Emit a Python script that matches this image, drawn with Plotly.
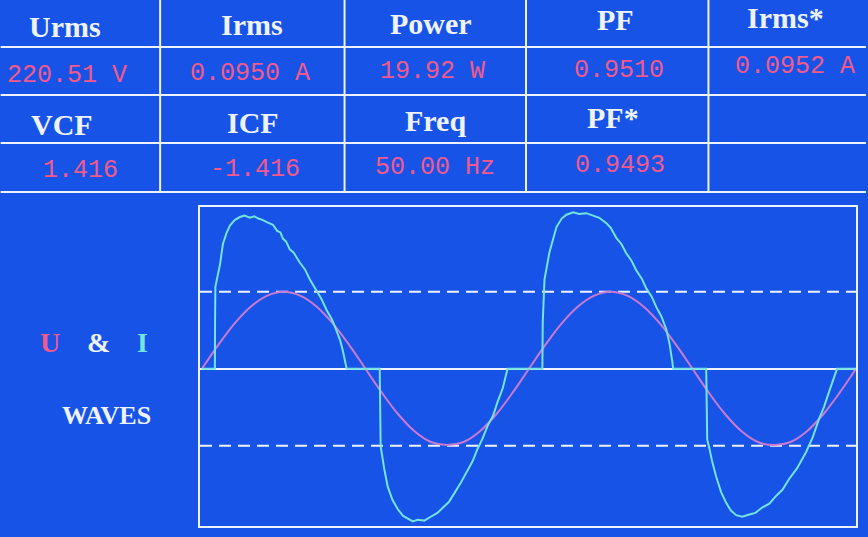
import plotly.graph_objects as go

# ---------------- data ----------------
header_row1 = ["Urms", "Irms", "Power", "PF", "Irms*"]
value_row1 = ["220.51 V", "0.0950 A", "19.92 W", "0.9510", "0.0952 A"]
header_row2 = ["VCF", "ICF", "Freq", "PF*", ""]
value_row2 = ["1.416", "-1.416", "50.00 Hz", "0.9493", ""]

# time axis in ms (two mains cycles, 50 Hz)
volt_t = [0, 1, 2, 3, 4, 5, 6, 7, 8, 9, 10, 11, 12, 13, 14, 15, 16, 17, 18, 19, 20,
          21, 22, 23, 24, 25, 26, 27, 28, 29, 30, 31, 32, 33, 34, 35, 36, 37, 38, 39, 40]
volt_v = [0, 0.31, 0.59, 0.81, 0.95, 1.0, 0.95, 0.81, 0.59, 0.31, 0,
          -0.31, -0.59, -0.81, -0.95, -0.99, -0.95, -0.81, -0.59, -0.31, 0,
          0.31, 0.59, 0.81, 0.95, 1.0, 0.95, 0.81, 0.59, 0.31, 0,
          -0.31, -0.59, -0.81, -0.95, -0.99, -0.95, -0.81, -0.59, -0.31, 0]

curr_t = [0.00, 0.79, 0.80, 0.82, 0.95, 1.10, 1.28, 1.50, 1.71, 2.00, 2.32, 2.60, 2.93, 3.20,
          3.45, 3.73, 4.00, 4.34, 4.60, 4.80, 4.95, 5.15, 5.37, 5.60, 5.98, 6.30, 6.60, 7.02,
          7.30, 7.63, 7.95, 8.24, 8.45, 8.61, 8.75, 8.85,
          10.87, 10.90, 10.93, 11.15, 11.36, 11.65, 11.97, 12.30, 12.58, 12.90, 13.19, 13.60,
          13.99, 14.40, 14.84, 15.10, 15.45, 15.80, 16.24, 16.55, 16.85, 17.15, 17.47, 17.80,
          18.08, 18.40, 18.69,
          20.82, 20.84, 20.95, 21.25, 21.68, 22.00, 22.29, 22.70, 23.08, 23.50, 23.88, 24.30,
          24.73, 25.00, 25.34, 25.65, 25.95, 26.25, 26.56, 26.90, 27.18, 27.50, 27.79, 28.10,
          28.40, 28.60, 28.76, 28.82,
          30.84, 30.86, 30.90, 31.02, 31.20, 31.45, 31.75, 32.06, 32.35, 32.67, 33.05, 33.47,
          33.85, 34.26, 34.70, 35.11, 35.50, 35.91, 36.40, 36.95, 37.35, 37.74, 38.05, 38.35,
          38.60, 38.84, 40.00]
curr_v = [0, 0, 0.60, 1.06, 1.20, 1.35, 1.62, 1.76, 1.86, 1.93, 1.97, 1.99, 1.96, 1.98,
          1.95, 1.93, 1.90, 1.87, 1.79, 1.77, 1.69, 1.65, 1.55, 1.51, 1.38, 1.29, 1.16, 1.01,
          0.91, 0.76, 0.64, 0.49, 0.37, 0.24, 0.10, 0,
          0, -0.50, -1.01, -1.30, -1.53, -1.70, -1.82, -1.91, -1.94, -1.98, -1.96, -1.97,
          -1.92, -1.87, -1.78, -1.73, -1.61, -1.49, -1.32, -1.20, -1.04, -0.91, -0.74, -0.61,
          -0.43, -0.25, 0,
          0, 0.60, 1.16, 1.51, 1.84, 1.95, 2.00, 2.03, 2.01, 2.02, 1.99, 1.96,
          1.89, 1.83, 1.70, 1.62, 1.50, 1.41, 1.28, 1.17, 1.04, 0.94, 0.80, 0.68,
          0.51, 0.32, 0.10, 0,
          0, -0.50, -0.92, -1.02, -1.20, -1.40, -1.60, -1.74, -1.84, -1.90, -1.92, -1.89,
          -1.87, -1.80, -1.75, -1.65, -1.57, -1.43, -1.29, -1.08, -0.89, -0.65, -0.49, -0.30,
          -0.15, 0, 0]

ref_levels = [1.0, -1.0]

# ---------------- styling ----------------
BG = "#1753e6"
WHITE = "#eef3ff"
PINK = "#f25a8e"
VCOL = "#c97ad2"
ICOL = "#74e4e0"

W, H = 868, 537
L, R, T, B = 200, 10, 207, 11
PW, PH = W - L - R, H - T - B


def px(x):
    return (x - L) / PW


def py(y):
    return (H - B - y) / PH


fig = go.Figure()
fig.add_trace(go.Scatter(x=volt_t, y=volt_v, mode="lines", line=dict(color=VCOL, width=2, shape="spline"),
                         hoverinfo="skip", showlegend=False))
fig.add_trace(go.Scatter(x=curr_t, y=curr_v, mode="lines", line=dict(color=ICOL, width=2),
                         hoverinfo="skip", showlegend=False))

shapes = []
for lv in ref_levels:
    shapes.append(dict(type="line", xref="paper", yref="y", x0=0, x1=1, y0=lv, y1=lv,
                       line=dict(color=WHITE, width=2, dash="12px,7px"), layer="below"))

# table grid
for yl in [47, 95, 143, 192]:
    shapes.append(dict(type="line", xref="paper", yref="paper", x0=px(0), x1=px(W), y0=py(yl), y1=py(yl),
                       line=dict(color=WHITE, width=2)))
for xl in [160, 345, 527, 710]:
    shapes.append(dict(type="line", xref="paper", yref="paper", x0=px(xl), x1=px(xl), y0=py(0), y1=py(192),
                       line=dict(color=WHITE, width=2)))

annotations = []
hx1 = [65, 252, 432, 617, 787]
hy1 = [26, 25, 23, 20, 17]
vx1 = [67, 250, 433, 620, 797]
vy1 = [75, 74, 72, 70, 67]
hx2 = [62, 253, 436, 614, 790]
hy2 = [124, 122, 120, 117, 115]
vx2 = [80, 255, 436, 621, 790]
vy2 = [170, 169, 167, 165, 163]

HFONT = dict(family="Liberation Serif", size=30, color=WHITE, weight="bold")
VFONT = dict(family="Liberation Mono", size=25, color=PINK)

for i in range(5):
    annotations.append(dict(text=header_row1[i], x=px(hx1[i]), y=py(hy1[i]), xref="paper", yref="paper",
                            showarrow=False, font=HFONT, xanchor="center", yanchor="middle"))
    annotations.append(dict(text=value_row1[i], x=px(vx1[i]), y=py(vy1[i]), xref="paper", yref="paper",
                            showarrow=False, font=VFONT, xanchor="center", yanchor="middle"))
    if header_row2[i]:
        annotations.append(dict(text=header_row2[i], x=px(hx2[i]), y=py(hy2[i]), xref="paper", yref="paper",
                                showarrow=False, font=HFONT, xanchor="center", yanchor="middle"))
    if value_row2[i]:
        annotations.append(dict(text=value_row2[i], x=px(vx2[i]), y=py(vy2[i]), xref="paper", yref="paper",
                                showarrow=False, font=VFONT, xanchor="center", yanchor="middle"))

LFONT = dict(family="Liberation Serif", size=28, weight="bold")
for txt, xx, col in [("U", 50, PINK), ("&", 98, WHITE), ("I", 142, ICOL)]:
    annotations.append(dict(text=txt, x=px(xx), y=py(342), xref="paper", yref="paper", showarrow=False,
                            font=dict(**LFONT, color=col), xanchor="center", yanchor="middle"))
annotations.append(dict(text="WAVES", x=px(106), y=py(415), xref="paper", yref="paper", showarrow=False,
                        font=dict(family="Liberation Serif", size=26, weight="bold", color=WHITE),
                        xanchor="center", yanchor="middle"))

fig.update_layout(
    width=W, height=H, autosize=False,
    margin=dict(l=L, r=R, t=T, b=B),
    paper_bgcolor=BG, plot_bgcolor=BG,
    shapes=shapes, annotations=annotations,
    xaxis=dict(range=[-0.12, 40.0], showgrid=False, zeroline=False, showticklabels=False, ticks="",
               showline=True, mirror=True, linecolor=WHITE, linewidth=2, fixedrange=True),
    yaxis=dict(range=[-2.04, 2.10], showgrid=False, zeroline=True, zerolinecolor=WHITE, zerolinewidth=2,
               showticklabels=False, ticks="", showline=True, mirror=True, linecolor=WHITE, linewidth=2,
               fixedrange=True),
)

fig.write_html("out.html", config={"displayModeBar": False},
               post_script="document.body.style.margin='0';document.body.style.overflow='hidden';"
                           "document.body.style.background='" + BG + "';")
